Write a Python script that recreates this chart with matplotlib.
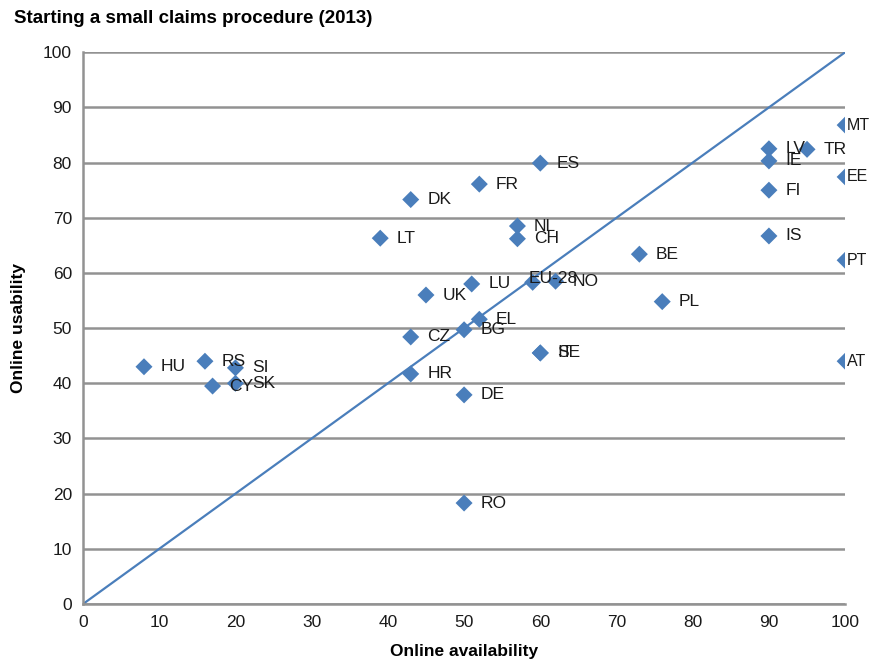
import numpy as np
import matplotlib.pyplot as plt
from matplotlib import font_manager

# 字体：尽量用窄体
names = [f.name for f in font_manager.fontManager.ttflist]
if 'Liberation Sans Narrow' in names:
    fam = ['Liberation Sans Narrow', 'DejaVu Sans']
else:
    fam = ['Liberation Sans', 'DejaVu Sans']
plt.rcParams['font.family'] = fam

# 数据
countries = ['HU', 'RS', 'SI', 'CY', 'SK', 'LT', 'DK', 'CZ', 'HR', 'UK',
             'FR', 'LU', 'BG', 'EL', 'DE', 'RO', 'NL', 'CH', 'EU-28', 'NO',
             'ES', 'IT', 'SE', 'BE', 'PL', 'LV', 'IE', 'FI', 'IS', 'TR',
             'MT', 'EE', 'PT', 'AT']
availability = [8, 16, 20, 17, 20, 39, 43, 43, 43, 45,
                52, 51, 50, 52, 50, 50, 57, 57, 59, 62,
                60, 60, 60, 73, 76, 90, 90, 90, 90, 95,
                100, 100, 100, 100]
usability = [43, 44, 42.8, 39.5, 40, 66.3, 73.3, 48.4, 41.7, 56,
             76.1, 58, 49.7, 51.6, 37.9, 18.3, 68.5, 66.2, 58.3, 58.5,
             79.9, 45.5, 45.5, 63.4, 54.8, 82.5, 80.3, 75, 66.7, 82.4,
             86.8, 77.4, 62.3, 44]

blue = '#4a7ebb'
grey = '#929292'

fig = plt.figure(figsize=(8.72, 6.68), dpi=100)
ax = fig.add_axes([0.0952, 0.0958, 0.874, 0.826])

ax.plot([0, 100], [0, 100], color=blue, lw=1.6, zorder=2)
ax.scatter(availability, usability, marker='D', s=75, color=blue,
           edgecolors='none', zorder=3)

for name, x, y in zip(countries, availability, usability):
    fs = 12.5
    if name == 'EU-28':
        off = (-3, 3)
    elif x >= 100:
        # 右边缘的标签贴近点，避免被裁掉
        off = (1.5, 0)
        fs = 11.5
    else:
        off = (12, 0)
    ax.annotate(name, (x, y), xytext=off, textcoords='offset points',
                ha='left', va='center', fontsize=fs, color='#1a1a1a',
                zorder=4)

ax.set_xlim(0, 100)
ax.set_ylim(0, 100)
ax.set_xticks(np.arange(0, 101, 10))
ax.set_yticks(np.arange(0, 101, 10))
ax.tick_params(length=0, labelsize=12.5, colors='#1a1a1a', pad=8)
ax.yaxis.grid(True, color=grey, lw=1.8)
ax.set_axisbelow(True)
for s in ['top', 'right']:
    ax.spines[s].set_visible(False)
for s in ['left', 'bottom']:
    ax.spines[s].set_color(grey)
    ax.spines[s].set_linewidth(1.8)

ax.set_xlabel('Online availability', fontsize=12.5, fontweight='bold', labelpad=10)
ax.set_ylabel('Online usability', fontsize=12.5, fontweight='bold', labelpad=12)
fig.text(0.016, 0.973, 'Starting a small claims procedure (2013)',
         fontsize=13.5, fontweight='bold', ha='left', va='center')

plt.savefig('out.png', dpi=100)
